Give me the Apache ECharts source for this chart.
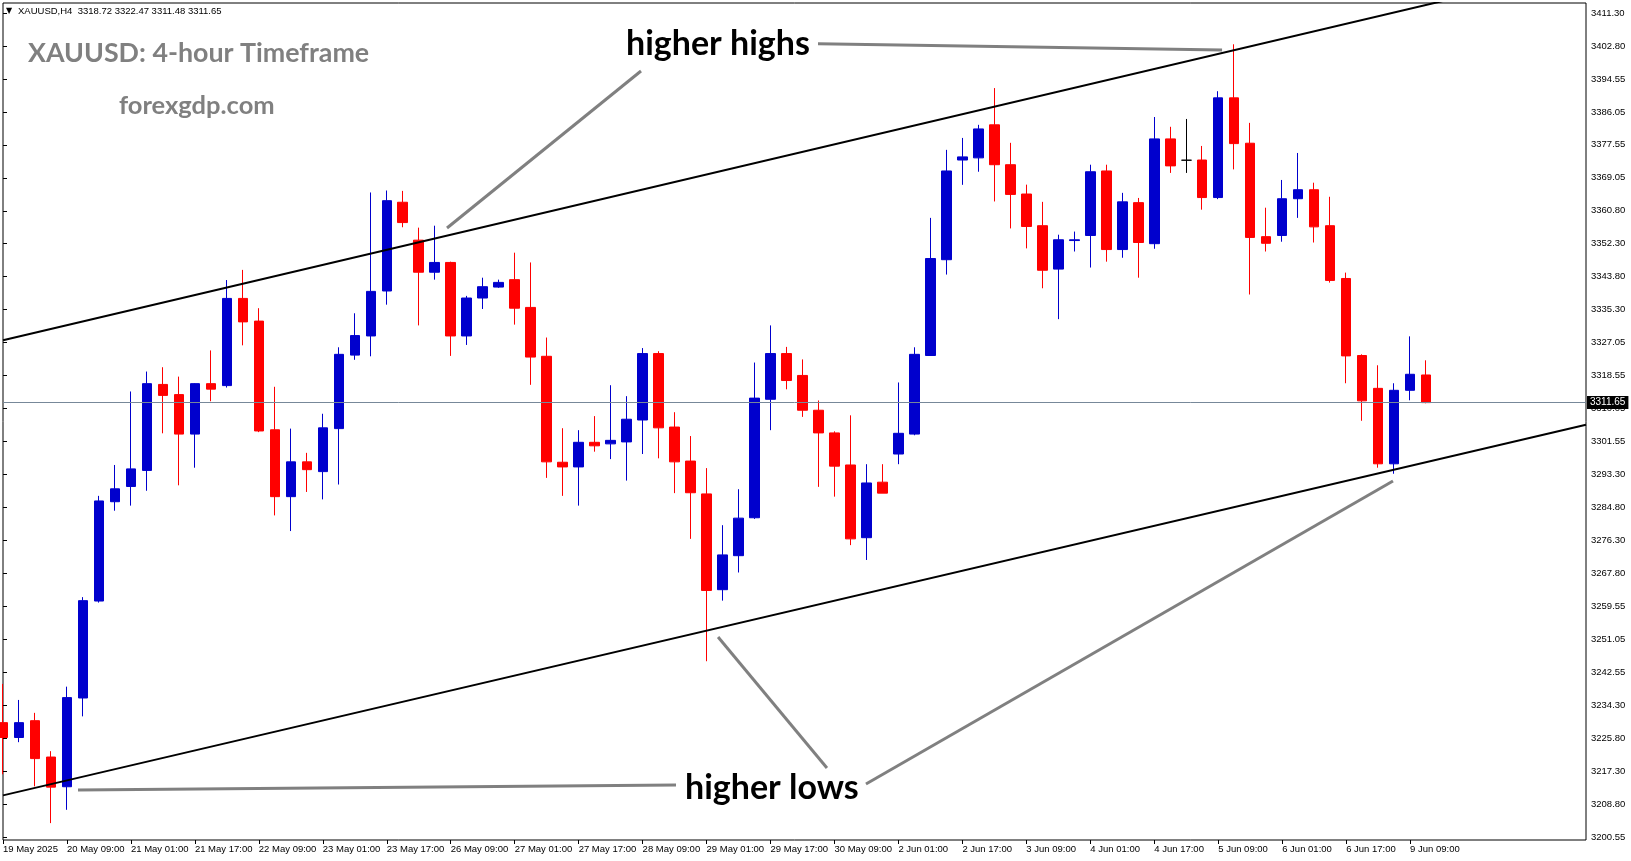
<!DOCTYPE html>
<html>
<head>
<meta charset="utf-8">
<script src="https://cdn.jsdelivr.net/npm/echarts@6/dist/echarts.min.js"></script>
<style>
html,body{margin:0;padding:0;background:#fff;}
#chart{width:1631px;height:861px;}
</style>
</head>
<body>
<div id="chart"></div>
<script>
// ---------- data ----------
const categories = [
  "19 May 17:00","19 May 21:00",
  "20 May 01:00","20 May 05:00","20 May 09:00","20 May 13:00","20 May 17:00","20 May 21:00",
  "21 May 01:00","21 May 05:00","21 May 09:00","21 May 13:00","21 May 17:00","21 May 21:00",
  "22 May 01:00","22 May 05:00","22 May 09:00","22 May 13:00","22 May 17:00","22 May 21:00",
  "23 May 01:00","23 May 05:00","23 May 09:00","23 May 13:00","23 May 17:00","23 May 21:00",
  "26 May 01:00","26 May 05:00","26 May 09:00","26 May 13:00","26 May 17:00","26 May 21:00",
  "27 May 01:00","27 May 05:00","27 May 09:00","27 May 13:00","27 May 17:00","27 May 21:00",
  "28 May 01:00","28 May 05:00","28 May 09:00","28 May 13:00","28 May 17:00","28 May 21:00",
  "29 May 01:00","29 May 05:00","29 May 09:00","29 May 13:00","29 May 17:00","29 May 21:00",
  "30 May 01:00","30 May 05:00","30 May 09:00","30 May 13:00","30 May 17:00","30 May 21:00",
  "2 Jun 01:00","2 Jun 05:00","2 Jun 09:00","2 Jun 13:00","2 Jun 17:00","2 Jun 21:00",
  "3 Jun 01:00","3 Jun 05:00","3 Jun 09:00","3 Jun 13:00","3 Jun 17:00","3 Jun 21:00",
  "4 Jun 01:00","4 Jun 05:00","4 Jun 09:00","4 Jun 13:00","4 Jun 17:00","4 Jun 21:00",
  "5 Jun 01:00","5 Jun 05:00","5 Jun 09:00","5 Jun 13:00","5 Jun 17:00","5 Jun 21:00",
  "6 Jun 01:00","6 Jun 05:00","6 Jun 09:00","6 Jun 13:00","6 Jun 17:00","6 Jun 21:00",
  "9 Jun 01:00","9 Jun 05:00","9 Jun 09:00","9 Jun 13:00"
];
const emptySlots = 10; // chart shift on the right

const openP = [3229.8,3226.0,3230.3,3221.0,3213.4,3236.1,3260.9,3286.3,3290.2,3294.3,
3316.3,3313.7,3303.6,3316.5,3316.0,3338.3,3332.5,3304.7,3287.6,3296.5,
3294.0,3305.0,3323.8,3328.7,3340.2,3362.9,3353.2,3345.0,3347.5,3328.7,
3338.4,3341.2,3343.1,3336.0,3323.5,3296.4,3295.2,3301.5,3301.1,3301.6,
3307.2,3324.2,3305.4,3296.7,3288.3,3263.8,3272.5,3282.2,3312.5,3324.2,
3318.6,3309.7,3303.9,3295.7,3277.1,3291.3,3298.5,3303.6,3323.7,3348.2,
3373.7,3374.25,3382.7,3372.5,3365.0,3356.9,3345.8,3353.1,3354.4,3370.9,
3350.8,3362.8,3352.3,3379.1,3373.65,3373.7,3364.1,3389.6,3378.0,3354.1,
3354.4,3363.8,3366.1,3356.9,3343.4,3323.7,3315.3,3296.0,3314.8,3318.72];

const highP = [3239.7,3235.6,3232.3,3222.5,3239.0,3261.9,3287.8,3295.7,3314.5,3319.6,
3320.7,3318.3,3316.6,3325.0,3343.0,3345.6,3335.8,3315.7,3305.0,3298.8,
3308.8,3325.8,3334.5,3365.4,3365.9,3365.8,3356.4,3356.9,3347.7,3338.95,
3343.6,3343.1,3350.0,3347.5,3328.3,3305.1,3304.6,3308.2,3316.1,3313.3,
3325.6,3324.8,3309.2,3303.1,3294.9,3280.3,3289.5,3321.9,3331.4,3325.9,
3322.7,3312.2,3304.3,3308.4,3295.9,3295.9,3316.8,3325.8,3358.9,3376.3,
3379.35,3382.7,3392.1,3378.1,3367.4,3363.0,3354.6,3355.4,3372.5,3372.5,
3365.3,3364.0,3384.7,3382.2,3384.2,3377.3,3391.3,3403.3,3383.2,3361.5,
3368.6,3375.5,3367.9,3364.3,3344.9,3324.0,3321.2,3316.6,3328.6,3322.47];

const lowP = [3216.6,3224.8,3213.5,3204.1,3207.5,3231.4,3260.5,3284.0,3285.3,3289.1,
3303.8,3290.5,3295.0,3312.0,3315.5,3326.3,3304.1,3282.8,3278.8,3288.8,
3286.9,3290.7,3322.6,3323.5,3336.7,3356.5,3331.4,3343.1,3323.6,3326.4,
3335.6,3341.0,3331.6,3316.2,3292.4,3287.8,3285.3,3299.1,3297.2,3291.7,
3298.5,3297.4,3288.5,3276.8,3245.5,3261.0,3268.2,3281.9,3304.6,3315.05,
3308.0,3290.1,3287.6,3275.2,3271.4,3288.5,3295.9,3303.3,3323.7,3344.4,
3367.35,3370.7,3363.1,3356.2,3351.1,3340.9,3333.0,3350.3,3346.2,3347.7,
3348.7,3343.6,3351.0,3370.4,3370.4,3361.0,3363.7,3371.3,3339.3,3350.3,
3352.8,3358.9,3352.6,3342.35,3316.6,3307.0,3295.0,3293.45,3312.25,3311.48];

const closeP = [3226.0,3229.8,3220.6,3213.3,3236.2,3261.0,3286.5,3289.6,3294.7,3316.5,
3313.5,3303.6,3316.5,3315.1,3338.3,3332.3,3304.4,3287.6,3296.5,3294.5,
3305.2,3324.0,3328.8,3340.1,3363.3,3357.7,3345.0,3347.5,3328.7,3338.4,
3341.3,3342.4,3335.8,3323.3,3296.5,3295.2,3301.5,3300.6,3302.0,3307.4,
3324.2,3305.2,3296.5,3288.6,3263.6,3272.7,3282.1,3312.8,3324.2,3317.3,
3309.7,3303.9,3295.4,3276.8,3291.1,3288.5,3303.8,3324.0,3348.5,3370.9,
3374.5,3381.65,3372.5,3364.9,3356.7,3345.5,3353.3,3353.3,3370.7,3350.8,
3363.0,3352.6,3379.1,3372.2,3373.65,3364.1,3389.6,3377.9,3353.9,3352.4,
3363.8,3366.1,3356.6,3342.9,3323.6,3312.1,3296.0,3314.8,3318.9,3311.65];

const xTickLabels = ["19 May 2025","20 May 09:00","21 May 01:00","21 May 17:00","22 May 09:00",
  "23 May 01:00","23 May 17:00","26 May 09:00","27 May 01:00","27 May 17:00","28 May 09:00",
  "29 May 01:00","29 May 17:00","30 May 09:00","2 Jun 01:00","2 Jun 17:00","3 Jun 09:00",
  "4 Jun 01:00","4 Jun 17:00","5 Jun 09:00","6 Jun 01:00","6 Jun 17:00","9 Jun 09:00"];

const yTickLabels = ["3200.55","3208.80","3217.30","3225.80","3234.30","3242.55","3251.05",
  "3259.55","3267.80","3276.30","3284.80","3293.30","3301.55","3310.05","3318.55","3327.05",
  "3335.30","3343.80","3352.30","3360.80","3369.05","3377.55","3386.05","3394.55","3402.80","3411.30"];

const currentPrice = 3311.65;
const headerText = "XAUUSD,H4  3318.72 3322.47 3311.48 3311.65";

// channel lines: [bar index, price]
const upperChannel = [[0, 3327.6], [99, 3423.0]];
const lowerChannel = [[0, 3211.2], [99, 3306.0]];
// annotation pointers: [bar index, price]
const pointerHighsA = [[50.97, 3403.45], [76.24, 3401.84]];
const pointerHighsB = [[39.9, 3396.47], [27.77, 3356.31]];
const pointerLowsA = [[42.09, 3213.85], [4.69, 3212.6]];
const pointerLowsB = [[51.53, 3218.2], [44.72, 3251.7]];
const pointerLowsC = [[53.97, 3214.1], [86.93, 3291.6]];

// ---------- chart ----------
const axisFont = '"Liberation Sans", Arial, sans-serif';
const allCats = categories.concat(Array.from({length: emptySlots}, (_, i) => 'slot' + i));
const candleData = categories.map((c, i) => {
  const item = { value: [openP[i], closeP[i], lowP[i], highP[i]] };
  if (openP[i] === closeP[i]) {
    item.itemStyle = { color: '#000', color0: '#000', borderColor: '#000', borderColor0: '#000' };
  }
  return item;
});
const showTick = (index) => index % 4 === 0 && index < categories.length;

function lineSeries(data, color, width, z) {
  return {
    type: 'line', xAxisIndex: 1, yAxisIndex: 0, data: data,
    symbol: 'none', showSymbol: false, silent: true, animation: false,
    lineStyle: { color: color, width: width }, z: z
  };
}

const chart = echarts.init(document.getElementById('chart'), null, { renderer: 'canvas' });
chart.setOption({
  animation: false,
  backgroundColor: '#fff',
  grid: [
    { left: 3, top: 3, width: 1583, height: 837, show: true, borderColor: '#000', borderWidth: 1,
      backgroundColor: '#fff', containLabel: false, outerBoundsMode: 'none' },
    { left: 3, top: 13, width: 1583, height: 824, show: false, containLabel: false, outerBoundsMode: 'none' }
  ],
  xAxis: [
    { type: 'category', gridIndex: 0, data: allCats, boundaryGap: false,
      axisLine: { show: false },
      axisTick: { show: true, interval: showTick, length: 4, lineStyle: { color: '#000', width: 1 } },
      axisLabel: { show: true, interval: showTick, align: 'left', margin: 4, color: '#000',
        fontSize: 9.5, fontFamily: axisFont,
        formatter: (v, idx) => (idx % 4 === 0 && idx < categories.length) ? xTickLabels[idx / 4] : '' },
      splitLine: { show: false } },
    { type: 'value', gridIndex: 0, min: 0, max: allCats.length - 1, show: false },
    { type: 'value', gridIndex: 1, min: 0, max: 1, show: false }
  ],
  yAxis: [
    { type: 'value', gridIndex: 0, min: 3199.78, max: 3413.86, show: false, scale: true },
    { type: 'value', gridIndex: 1, min: 0, max: yTickLabels.length - 1, interval: 1, position: 'right',
      axisLine: { show: false },
      axisTick: { show: true, length: 4, lineStyle: { color: '#000', width: 1 } },
      axisLabel: { show: true, margin: 5, color: '#000', fontSize: 9.5, fontFamily: axisFont,
        showMinLabel: true, showMaxLabel: true,
        formatter: (v) => { const r = Math.round(v); return Math.abs(v - r) < 1e-6 ? (yTickLabels[r] || '') : ''; } },
      splitLine: { show: false } }
  ],
  series: [
    { type: 'candlestick', xAxisIndex: 0, yAxisIndex: 0, data: candleData, barWidth: 10,
      silent: true, z: 2,
      itemStyle: { color: '#0000CD', color0: '#FF0000', borderColor: '#0000CD', borderColor0: '#FF0000', borderWidth: 1 },
      markLine: {
        silent: true, animation: false, symbol: ['none', 'none'],
        data: [{ yAxis: currentPrice }],
        lineStyle: { color: '#778899', width: 1, type: 'solid' },
        label: { show: true, position: 'end', formatter: currentPrice.toFixed(2), color: '#fff',
          backgroundColor: '#000', padding: [2, 3, 1, 3], distance: 1, fontSize: 10, fontFamily: axisFont },
        emphasis: { disabled: true }
      }
    },
    lineSeries(upperChannel, '#000', 2, 5),
    lineSeries(lowerChannel, '#000', 2, 5),
    lineSeries(pointerHighsA, '#808080', 3, 6),
    lineSeries(pointerHighsB, '#808080', 3, 6),
    lineSeries(pointerLowsA, '#808080', 3, 6),
    lineSeries(pointerLowsB, '#808080', 3, 6),
    lineSeries(pointerLowsC, '#808080', 3, 6)
  ],
  graphic: [
    { type: 'text', x: 6, y: 11, z: 100, style: { text: '\u25BC', fontSize: 8, fill: '#000', verticalAlign: 'middle', fontFamily: '"DejaVu Sans"' } },
    { type: 'text', x: 18, y: 11, z: 100, style: { text: headerText, fontSize: 9.5, fontFamily: axisFont, fill: '#000', verticalAlign: 'middle' } },
    { type: 'text', x: 28, y: 53, z: 100, style: { text: 'XAUUSD: 4-hour Timeframe', fontSize: 26.8, fontWeight: 'bold', fontFamily: 'Lato', fill: '#808080', verticalAlign: 'middle' } },
    { type: 'text', x: 119, y: 106, z: 100, style: { text: 'forexgdp.com', fontSize: 25.5, fontWeight: 'bold', fontFamily: 'Lato', fill: '#808080', verticalAlign: 'middle' } },
    { type: 'text', x: 626, y: 44, z: 100, style: { text: 'higher highs', fontSize: 34, fontWeight: 'bold', fontFamily: 'Lato', fill: '#000', verticalAlign: 'middle' } },
    { type: 'text', x: 685, y: 788, z: 100, style: { text: 'higher lows', fontSize: 34, fontWeight: 'bold', fontFamily: 'Lato', fill: '#000', verticalAlign: 'middle' } }
  ]
});
</script>
</body>
</html>
